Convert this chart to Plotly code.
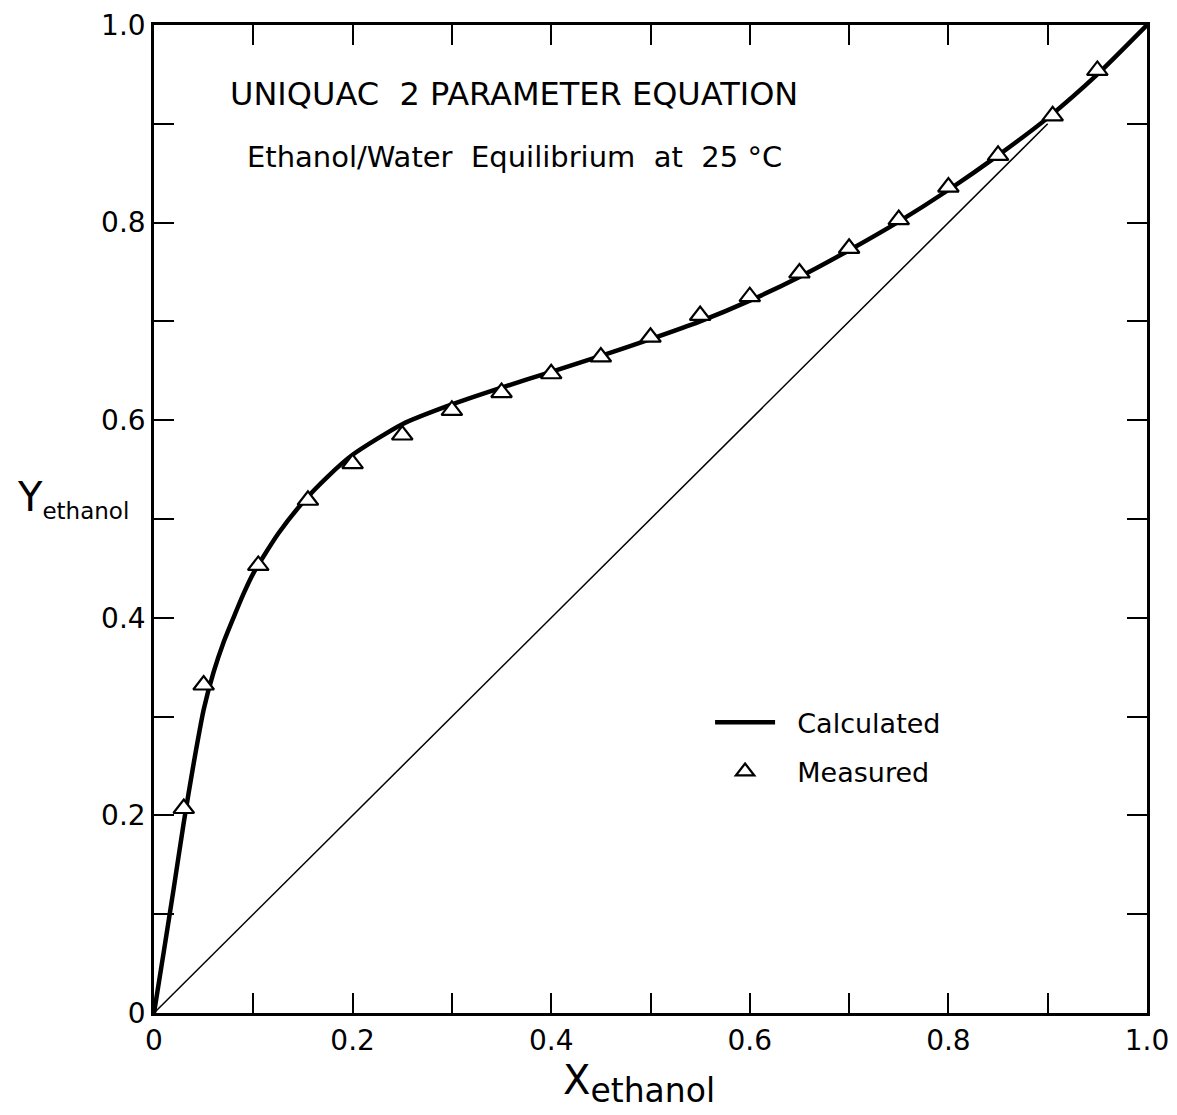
import plotly.graph_objects as go

# Calculated (UNIQUAC) curve
calc_x = [0, 0.01, 0.02, 0.03, 0.04, 0.05, 0.06, 0.07, 0.08, 0.09, 0.10, 0.125, 0.15, 0.175,
          0.20, 0.25, 0.30, 0.35, 0.40, 0.45, 0.50, 0.55, 0.60, 0.65, 0.70, 0.75,
          0.80, 0.85, 0.90, 0.95, 1.0]
calc_y = [0, 0.063, 0.127, 0.193, 0.253, 0.307, 0.345, 0.375, 0.400, 0.424, 0.445, 0.485, 0.517, 0.543,
          0.565, 0.596, 0.616, 0.633, 0.649, 0.665, 0.682, 0.700, 0.721, 0.745, 0.772, 0.801,
          0.833, 0.868, 0.906, 0.950, 1.0]

# Measured points
meas_x = [0.03, 0.05, 0.105, 0.155, 0.20, 0.25, 0.30, 0.35, 0.40, 0.45, 0.50,
          0.55, 0.60, 0.65, 0.70, 0.75, 0.80, 0.85, 0.905, 0.95]
meas_y = [0.207, 0.332, 0.453, 0.519, 0.556, 0.585, 0.610, 0.628, 0.647, 0.664, 0.684,
          0.706, 0.725, 0.749, 0.774, 0.803, 0.836, 0.868, 0.908, 0.954]

# Diagonal y = x
diag_x = [0, 0.9]
diag_y = [0, 0.9]

tick_vals = [0, 0.1, 0.2, 0.3, 0.4, 0.5, 0.6, 0.7, 0.8, 0.9, 1.0]
tick_text = ["0", "", "0.2", "", "0.4", "", "0.6", "", "0.8", "", "1.0"]

FONT = "DejaVu Sans"
NB = "\u00a0"

fig = go.Figure()
fig.add_trace(go.Scatter(x=diag_x, y=diag_y, mode="lines",
                         line=dict(color="black", width=1.5), showlegend=False,
                         hoverinfo="skip"))
fig.add_trace(go.Scatter(x=calc_x, y=calc_y, mode="lines", name=NB * 2 + "Calculated",
                         legendgroup="calc",
                         line=dict(color="black", width=4.5, shape="spline", smoothing=0.6)))
fig.add_trace(go.Scatter(x=meas_x, y=meas_y, mode="markers", name=NB * 2 + "Measured",
                         legendgroup="meas",
                         marker=dict(symbol="triangle-up", size=18, color="white",
                                     line=dict(color="black", width=2.2))))

axis_common = dict(
    range=[0, 1], tickmode="array", tickvals=tick_vals, ticktext=tick_text,
    ticks="inside", ticklen=20, tickwidth=1.5, tickcolor="black",
    showline=True, linecolor="black", linewidth=2.5, mirror="ticks",
    showgrid=False, zeroline=False,
    tickfont=dict(family=FONT, size=28, color="black"),
)

fig.update_layout(
    width=1169, height=1107,
    margin=dict(l=146, r=30, t=17, b=102, autoexpand=False),
    paper_bgcolor="white", plot_bgcolor="white",
    font=dict(family=FONT, color="black"),
    xaxis=dict(**axis_common, ticklabelstandoff=1),
    yaxis=dict(**axis_common, ticklabelstandoff=0),
    showlegend=True,
    legend=dict(x=0.56, y=0.3185, xanchor="left", yanchor="top",
                bgcolor="rgba(0,0,0,0)", font=dict(family=FONT, size=27, color="black"),
                itemwidth=60, tracegroupgap=11),
    annotations=[
        dict(text="UNIQUAC  2 PARAMETER EQUATION", x=0.0745, y=0.93, xref="paper", yref="paper",
             xanchor="left", yanchor="middle", showarrow=False,
             font=dict(family=FONT, size=32, color="black")),
        dict(text="Ethanol/Water  Equilibrium  at  25 °C", x=0.0916, y=0.866, xref="paper", yref="paper",
             xanchor="left", yanchor="middle", showarrow=False,
             font=dict(family=FONT, size=29, color="black")),
        dict(text="X<sub><span style='font-size:33px'>ethanol</span></sub>", x=0.41, y=-0.043,
             xref="paper", yref="paper",
             xanchor="left", yanchor="top", showarrow=False,
             font=dict(family=FONT, size=40, color="black")),
        dict(text="Y<sub><span style='font-size:23px'>ethanol</span></sub>", x=-0.14, y=0.52,
             xref="paper", yref="paper",
             xanchor="left", yanchor="middle", showarrow=False,
             font=dict(family=FONT, size=40, color="black")),
    ],
)

fig.write_html("out.html")
